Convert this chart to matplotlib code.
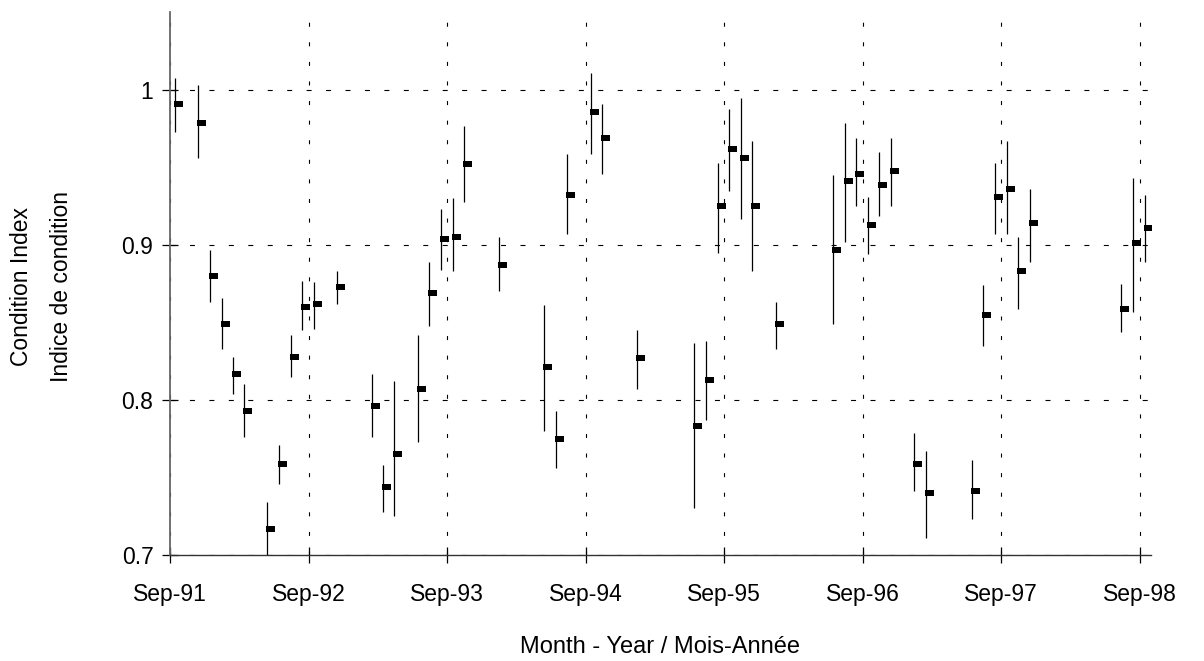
import matplotlib
matplotlib.use('Agg')
import matplotlib.pyplot as plt
import matplotlib.dates as mdates
from matplotlib.path import Path
import numpy as np

# ---- data ----
months = ['1991-09', '1991-11', '1991-12', '1992-01', '1992-02', '1992-03', '1992-05',
          '1992-06', '1992-07', '1992-08', '1992-09', '1992-11', '1993-02', '1993-03',
          '1993-04', '1993-06', '1993-07', '1993-08', '1993-09', '1993-10', '1994-01',
          '1994-05', '1994-06', '1994-07', '1994-09', '1994-10', '1995-01', '1995-06',
          '1995-07', '1995-08', '1995-09', '1995-10', '1995-11', '1996-01', '1996-06',
          '1996-07', '1996-08', '1996-09', '1996-10', '1996-11', '1997-01', '1997-02',
          '1997-06', '1997-07', '1997-08', '1997-09', '1997-10', '1997-11', '1998-07',
          '1998-08', '1998-09']
condition = [0.991, 0.979, 0.880, 0.849, 0.817, 0.793, 0.717, 0.759, 0.828, 0.860,
             0.862, 0.873, 0.796, 0.744, 0.765, 0.807, 0.869, 0.904, 0.905, 0.952,
             0.887, 0.821, 0.775, 0.932, 0.986, 0.969, 0.827, 0.783, 0.813, 0.925,
             0.962, 0.956, 0.925, 0.849, 0.897, 0.941, 0.946, 0.913, 0.939, 0.948,
             0.759, 0.740, 0.741, 0.855, 0.931, 0.936, 0.883, 0.914, 0.859, 0.901,
             0.911]
upper = [1.008, 1.003, 0.897, 0.866, 0.828, 0.810, 0.734, 0.771, 0.842, 0.877,
         0.876, 0.883, 0.817, 0.758, 0.812, 0.842, 0.889, 0.923, 0.930, 0.977,
         0.905, 0.861, 0.793, 0.959, 1.011, 0.991, 0.845, 0.837, 0.838, 0.953,
         0.988, 0.995, 0.967, 0.863, 0.945, 0.979, 0.969, 0.931, 0.960, 0.969,
         0.779, 0.767, 0.761, 0.874, 0.953, 0.967, 0.905, 0.936, 0.875, 0.943,
         0.932]
lower = [0.973, 0.956, 0.863, 0.833, 0.804, 0.776, 0.699, 0.746, 0.815, 0.845,
         0.846, 0.862, 0.776, 0.728, 0.725, 0.773, 0.848, 0.884, 0.883, 0.928,
         0.870, 0.780, 0.756, 0.907, 0.959, 0.946, 0.807, 0.730, 0.787, 0.895,
         0.935, 0.917, 0.883, 0.833, 0.849, 0.902, 0.925, 0.894, 0.919, 0.925,
         0.741, 0.711, 0.723, 0.835, 0.907, 0.907, 0.859, 0.889, 0.844, 0.857,
         0.889]
y_ticks = [0.7, 0.8, 0.9, 1.0]
y_tick_labels = ['0.7', '0.8', '0.9', '1']
x_label = 'Month - Year / Mois-Année'
y_label = 'Condition Index\nIndice de condition'

# ---- style ----
plt.rcParams['font.family'] = ['Liberation Sans', 'DejaVu Sans']
plt.rcParams['lines.scale_dashes'] = False

W, H = 1204, 661
fig = plt.figure(figsize=(W / 100, H / 100), dpi=100)
ax = fig.add_axes([170 / W, (H - 555) / H, 981 / W, 543 / H])

x = np.array([m + '-15' for m in months], dtype='datetime64[D]')

ax.vlines(x, lower, upper, colors='black', lw=0.9, zorder=3)
tick_marker = Path([(-0.1, -0.36), (1, -0.36), (1, 0.36), (-0.1, 0.36), (-0.1, -0.36)],
                   [Path.MOVETO, Path.LINETO, Path.LINETO, Path.LINETO, Path.CLOSEPOLY])
ax.plot(x, condition, ls='none', marker=tick_marker, markersize=12.2,
        color='black', markeredgewidth=0, zorder=4)

ax.set_xlim(np.datetime64('1991-09-01'), np.datetime64('1998-10-01'))
ax.set_ylim(0.7, 1.0503)

ax.xaxis.set_major_locator(mdates.YearLocator(base=1, month=9, day=1))
ax.xaxis.set_major_formatter(mdates.DateFormatter('%b-%y'))
ax.set_yticks(y_ticks)
ax.set_yticklabels(y_tick_labels)

ax.grid(axis='y', color='black', lw=0.8, ls=(0, (3.6, 10.4)))
ax.grid(axis='x', color='black', lw=0.8, ls=(0, (2.9, 11.2)))
ax.set_axisbelow(True)

for s in ['top', 'right']:
    ax.spines[s].set_visible(False)
ax.spines['left'].set_color('#666666')
ax.spines['left'].set_linewidth(1.3)
ax.spines['bottom'].set_color('#333333')
ax.spines['bottom'].set_linewidth(1.0)

ax.tick_params(axis='both', direction='inout', length=12.2, width=0.9,
               color='black', labelsize=16.5, labelcolor='black')
ax.tick_params(axis='x', pad=14.0)
ax.tick_params(axis='y', pad=5.8)

fig.text(660 / W, 1 - 653 / H, x_label, ha='center', va='baseline', fontsize=17)
fig.text(41.5 / W, 1 - 286 / H, y_label, ha='center', va='center', rotation=90,
         fontsize=16.5, linespacing=1.95, multialignment='center')

fig.savefig('out.png', dpi=100)
